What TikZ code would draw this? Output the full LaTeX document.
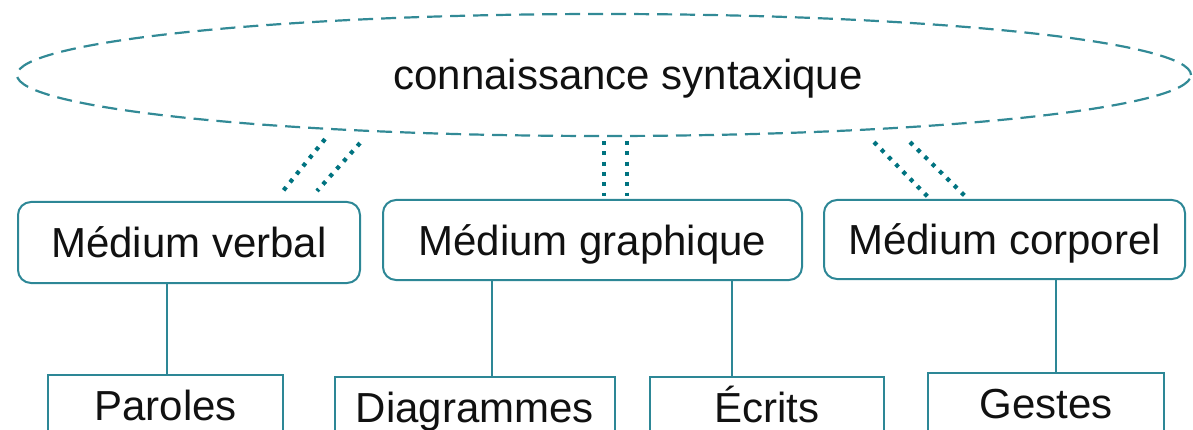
\documentclass[tikz,border=0pt]{standalone}
\usepackage{fontspec}
\setmainfont{Liberation Sans}
\usetikzlibrary{shapes.geometric,calc}
\definecolor{boxc}{RGB}{45,135,150}
\definecolor{ellc}{RGB}{50,138,150}
\definecolor{dotc}{RGB}{0,115,128}
\definecolor{txtc}{RGB}{17,17,17}
\begin{document}
\begin{tikzpicture}[x=1pt,y=-1pt,
  every node/.style={font=\fontsize{42}{50}\selectfont, text=txtc, text height=31pt, text depth=1pt, inner sep=0pt},
  topell/.style={ellipse, draw=ellc, line width=2.2pt, dash pattern=on 15pt off 8pt},
  medbox/.style={draw=boxc, line width=2pt, rounded corners=13pt},
  leafbox/.style={draw=boxc, line width=2pt, minimum height=60pt},
  dotline/.style={draw=dotc, line width=4.2pt, dash pattern=on 4pt off 6.3pt},
  conn/.style={draw=boxc, line width=1.6pt}]
\useasboundingbox (0,0) rectangle (1193,430);
\clip (0,0) rectangle (1193,430);

\node[topell, minimum width=1174pt, minimum height=122pt] (ks) at (604,75) {\hspace*{48pt}connaissance syntaxique};

\node[medbox, minimum width=342pt, minimum height=81pt] (mv) at (189,242.5) {Médium verbal};
\node[medbox, minimum width=419pt, minimum height=80pt] (mg) at (592.5,240) {Médium graphique};
\node[medbox, minimum width=361pt, minimum height=79pt] (mc) at (1004.5,239.5) {Médium corporel};

\node[leafbox, minimum width=235pt] (pa) at (165.5,405) {Paroles};
\node[leafbox, minimum width=280pt] (di) at (475,407) {Diagrammes};
\node[leafbox, minimum width=234pt] (ec) at (767,407) {Écrits};
\node[leafbox, minimum width=236pt] (ge) at (1046,403) {Gestes};

% dotted double links
\draw[dotline] ($(ks.south)+(-279,2)$) -- ($(mv.north)+(94,-10)$);
\draw[dotline] ($(ks.south)+(-244,6)$) -- ($(mv.north)+(128,-10)$);
\draw[dotline] ($(ks.south)+(0,4)$) -- ($(mg.north)+(11.5,-3)$);
\draw[dotline] ($(ks.south)+(23,4)$) -- ($(mg.north)+(34.5,-3)$);
\draw[dotline] ($(ks.south)+(270,5)$) -- ($(mc.north)+(-76.5,-2)$);
\draw[dotline] ($(ks.south)+(306,5)$) -- ($(mc.north)+(-38.5,-2)$);

% vertical connectors
\coordinate (cpa) at ($(pa.north)+(1.5,0)$);
\coordinate (cdi) at ($(di.north)+(17,0)$);
\coordinate (cec) at ($(ec.north)+(-35,0)$);
\coordinate (cge) at ($(ge.north)+(10,0)$);
\draw[conn] (cpa) -- (cpa |- mv.south);
\draw[conn] (cdi) -- (cdi |- mg.south);
\draw[conn] (cec) -- (cec |- mg.south);
\draw[conn] (cge) -- (cge |- mc.south);
\end{tikzpicture}
\end{document}
